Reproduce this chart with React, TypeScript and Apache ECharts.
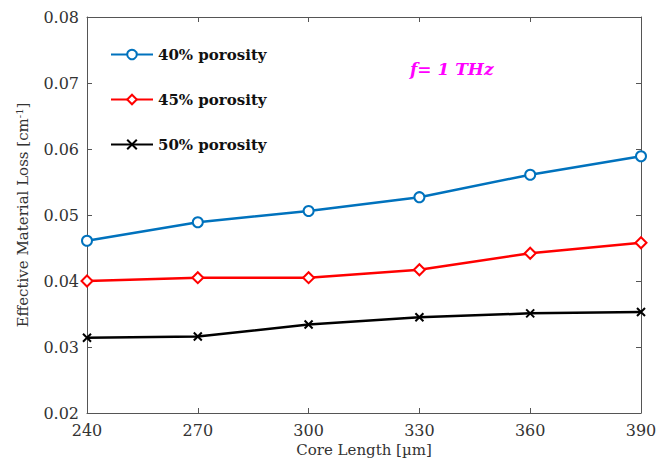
import React, { useEffect, useRef } from "react";
import * as echarts from "echarts";

const coreLength = [240, 270, 300, 330, 360, 390];
const p40 = [0.0461, 0.0489, 0.0506, 0.0527, 0.0561, 0.0589];
const p45 = [0.0400, 0.0405, 0.0405, 0.0417, 0.0442, 0.0458];
const p50 = [0.0314, 0.0316, 0.0334, 0.0345, 0.0351, 0.0353];
const seriesNames = ["40% porosity", "45% porosity", "50% porosity"];

const FONT = "'DejaVu Serif', 'Liberation Serif', serif";

export default function App() {
  const ref = useRef<HTMLDivElement>(null);
  useEffect(() => {
    if (!ref.current) return;
    const chart = echarts.init(ref.current, undefined, { renderer: "svg" });
    const pair = (ys: number[]) => coreLength.map((x, i) => [x, ys[i]]);
    const mk = (name: string, data: number[], color: string, symbol: string, size: number) => ({
      name,
      type: "line",
      data: pair(data),
      symbol,
      symbolSize: size,
      lineStyle: { color, width: 2.5 },
      itemStyle: { color: "#ffffff", borderColor: color, borderWidth: 2 },
      color,
    });
    const axisCommon = {
      axisLine: { show: true, lineStyle: { color: "#555", width: 1 } },
      axisTick: { show: true, inside: true, length: 5, lineStyle: { color: "#555" } },
      splitLine: { show: false },
    };
    chart.setOption({
      animation: false,
      backgroundColor: "#ffffff",
      grid: { left: 87, right: 31, top: 17, bottom: 53 },
      legend: {
        orient: "vertical",
        left: 105,
        top: 42,
        itemWidth: 42,
        itemHeight: 12,
        itemGap: 30,
        textStyle: { fontFamily: FONT, fontWeight: "bold", fontSize: 15, color: "#111" },
        data: seriesNames,
      },
      xAxis: [
        {
          type: "value",
          min: 240,
          max: 390,
          interval: 30,
          ...axisCommon,
          axisLabel: { fontFamily: FONT, fontSize: 16, color: "#333", margin: 9 },
          name: "Core Length [\u00b5m]",
          nameLocation: "middle",
          nameGap: 28,
          nameTextStyle: { fontFamily: FONT, fontSize: 15, color: "#333" },
        },
        {
          type: "value",
          position: "top",
          min: 240,
          max: 390,
          interval: 30,
          ...axisCommon,
          axisLabel: { show: false },
        },
      ],
      yAxis: [
        {
          type: "value",
          min: 0.02,
          max: 0.08,
          interval: 0.01,
          ...axisCommon,
          axisLabel: {
            fontFamily: FONT,
            fontSize: 16,
            color: "#333",
            margin: 8,
            formatter: (v: number) => v.toFixed(2),
          },
          name: "Effective Material Loss [cm{sup|-1}]",
          nameLocation: "middle",
          nameGap: 55,
          nameTextStyle: {
            fontFamily: FONT,
            fontSize: 15,
            color: "#333",
            rich: {
              sup: { fontFamily: FONT, fontSize: 10, color: "#333", verticalAlign: "top", padding: [0, 0, 8, 0] },
            },
          },
        },
        {
          type: "value",
          position: "right",
          min: 0.02,
          max: 0.08,
          interval: 0.01,
          ...axisCommon,
          axisLabel: { show: false },
        },
      ],
      series: [
        mk(seriesNames[0], p40, "#0072BD", "circle", 10),
        mk(seriesNames[1], p45, "#FF0000", "diamond", 11),
        mk(seriesNames[2], p50, "#000000", "path://M0,0L10,10M10,0L0,10", 8),
      ],
      graphic: [
        {
          type: "text",
          left: 410,
          top: 60,
          style: {
            text: "f= 1 THz",
            fontFamily: FONT,
            fontSize: 17,
            fontWeight: "bold",
            fontStyle: "italic",
            fill: "#ff00ff",
          },
        },
      ],
    });
    return () => chart.dispose();
  }, []);
  return <div ref={ref} style={{ width: 672, height: 466, margin: -8 }} />;
}
